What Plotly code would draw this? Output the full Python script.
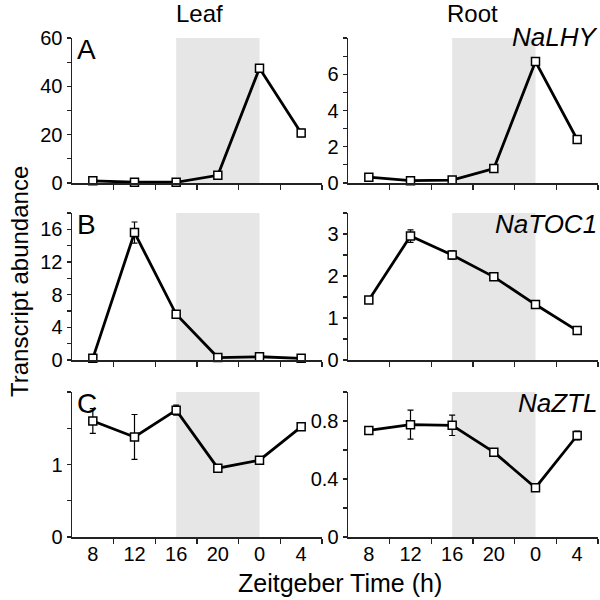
import plotly.graph_objects as go

# ---- data ----
zt_labels = ["8", "12", "16", "20", "0", "4"]
x_idx = [0, 1, 2, 3, 4, 5]

leaf_lhy = [0.9, 0.3, 0.3, 3.2, 47.5, 20.7]
leaf_lhy_err = [0.5, 0.2, 0.2, 0.6, 1.0, 1.5]
root_lhy = [0.32, 0.13, 0.16, 0.8, 6.7, 2.4]
root_lhy_err = [0.05, 0.05, 0.05, 0.08, 0.15, 0.2]

leaf_toc1 = [0.2, 15.6, 5.6, 0.3, 0.4, 0.2]
leaf_toc1_err = [0.1, 1.3, 0.3, 0.1, 0.1, 0.1]
root_toc1 = [1.43, 2.95, 2.5, 1.98, 1.32, 0.7]
root_toc1_err = [0.04, 0.15, 0.1, 0.05, 0.05, 0.04]

leaf_ztl = [1.6, 1.38, 1.75, 0.95, 1.06, 1.52]
leaf_ztl_err = [0.17, 0.31, 0.07, 0.02, 0.02, 0.03]
root_ztl = [0.735, 0.775, 0.77, 0.585, 0.34, 0.70]
root_ztl_err = [0.02, 0.1, 0.07, 0.015, 0.02, 0.03]

genes = ["NaLHY", "NaTOC1", "NaZTL"]
letters = ["A", "B", "C"]
dark_start, dark_end = 2, 4  # ZT16 -> ZT0 (index)

# ---- layout helpers ----
W = H = 600
FONT = "Liberation Sans, Arial, sans-serif"


def px_x(p):
    return p / W


def px_y(p):
    return 1 - p / H


col_dom = [(72, 322), (348, 598)]
row_dom = [(38, 183), (213, 360), (392, 537)]

panels = [
    (0, 0, leaf_lhy, leaf_lhy_err, [0, 60], [0, 20, 40, 60], 10),
    (0, 1, root_lhy, root_lhy_err, [0, 8], [0, 2, 4, 6], 1),
    (1, 0, leaf_toc1, leaf_toc1_err, [0, 18], [0, 4, 8, 12, 16], 2),
    (1, 1, root_toc1, root_toc1_err, [0, 3.5], [0, 1, 2, 3], 0.5),
    (2, 0, leaf_ztl, leaf_ztl_err, [0, 2], [0, 1], 0.5),
    (2, 1, root_ztl, root_ztl_err, [0, 1], [0, 0.4, 0.8], 0.2),
]

fig = go.Figure()
layout = dict(
    width=W, height=H, margin=dict(l=0, r=0, t=0, b=0, autoexpand=False),
    paper_bgcolor="white", plot_bgcolor="white", showlegend=False,
    font=dict(family=FONT, color="black"),
)
shapes = []
annotations = []
AX_COLOR = "#222222"
TICK_SIZE = 20

for i, (r, c, vals, errs, yr, majors, mdt) in enumerate(panels):
    n = i + 1
    xa = "xaxis" if n == 1 else f"xaxis{n}"
    ya = "yaxis" if n == 1 else f"yaxis{n}"
    xr = "x" if n == 1 else f"x{n}"
    yrf = "y" if n == 1 else f"y{n}"
    fig.add_trace(go.Scatter(
        x=x_idx, y=vals, xaxis=xr, yaxis=yrf, mode="lines+markers",
        line=dict(color="black", width=2.8),
        marker=dict(symbol="square", size=8, color="white",
                    line=dict(color="black", width=1.5)),
        error_y=dict(type="data", array=errs, color="black", thickness=1.2, width=3),
        cliponaxis=False,
    ))
    x0, x1 = col_dom[c]
    y0, y1 = row_dom[r]
    layout[xa] = dict(
        domain=[px_x(x0), px_x(x1)], anchor=yrf, range=[-0.5, 5.5], automargin=False,
        showgrid=False, zeroline=False, showline=True, linecolor=AX_COLOR, linewidth=1.5,
        tickmode="array", tickvals=x_idx,
        ticktext=zt_labels if r == 2 else [""] * 6,
        ticks="", ticklabelstandoff=-2,
        tickfont=dict(size=TICK_SIZE, family=FONT, color="black"),
        minor=dict(tickmode="array", tickvals=[0.5, 1.5, 2.5, 3.5, 4.5, 5.5],
                   ticks="outside", ticklen=5, tickwidth=1.2, tickcolor=AX_COLOR),
        fixedrange=True,
    )
    layout[ya] = dict(
        domain=[px_y(y1), px_y(y0)], anchor=xr, range=yr, automargin=False,
        showgrid=False, zeroline=False, showline=True, linecolor=AX_COLOR, linewidth=1.5,
        tickmode="array", tickvals=majors,
        ticktext=[("%g" % v) for v in majors],
        ticks="outside", ticklen=4, tickwidth=1.2, tickcolor=AX_COLOR,
        tickfont=dict(size=TICK_SIZE, family=FONT, color="black"),
        minor=dict(tick0=0, dtick=mdt, ticks="outside", ticklen=4,
                   tickwidth=1.2, tickcolor=AX_COLOR),
        fixedrange=True,
    )
    shapes.append(dict(
        type="rect", xref=xr, yref=f"{yrf} domain", x0=dark_start, x1=dark_end,
        y0=0, y1=1, fillcolor="#e6e6e6", line=dict(width=0), layer="below",
    ))
    if c == 0:
        annotations.append(dict(
            text=letters[r], xref="paper", yref="paper",
            x=px_x(75), y=px_y(y0 - 6), xanchor="left", yanchor="top",
            showarrow=False, font=dict(size=28, family=FONT, color="black"),
        ))
    else:
        gy = 20 if r == 0 else y0 - 6
        annotations.append(dict(
            text=f"<i>{genes[r]}</i>", xref="paper", yref="paper",
            x=px_x(599), y=px_y(gy), xanchor="right", yanchor="top",
            showarrow=False, font=dict(size=26, family=FONT, color="black"),
        ))

# column titles
annotations.append(dict(text="Leaf", xref="paper", yref="paper", x=px_x(199), y=px_y(13),
                        xanchor="center", yanchor="middle", showarrow=False,
                        font=dict(size=24, family=FONT, color="black")))
annotations.append(dict(text="Root", xref="paper", yref="paper", x=px_x(472), y=px_y(13),
                        xanchor="center", yanchor="middle", showarrow=False,
                        font=dict(size=24, family=FONT, color="black")))
# axis titles
annotations.append(dict(text="Transcript abundance", xref="paper", yref="paper",
                        x=px_x(19), y=px_y(282), xanchor="center", yanchor="middle",
                        textangle=-90, showarrow=False,
                        font=dict(size=24, family=FONT, color="black")))
annotations.append(dict(text="Zeitgeber Time (h)", xref="paper", yref="paper",
                        x=px_x(340), y=px_y(583), xanchor="center", yanchor="middle",
                        showarrow=False, font=dict(size=25, family=FONT, color="black")))

layout["shapes"] = shapes
layout["annotations"] = annotations
fig.update_layout(**layout)
fig.write_html(
    "out.html",
    config={"displayModeBar": False, "staticPlot": True},
    post_script="document.body.style.margin='0';document.body.style.overflow='hidden';",
)
